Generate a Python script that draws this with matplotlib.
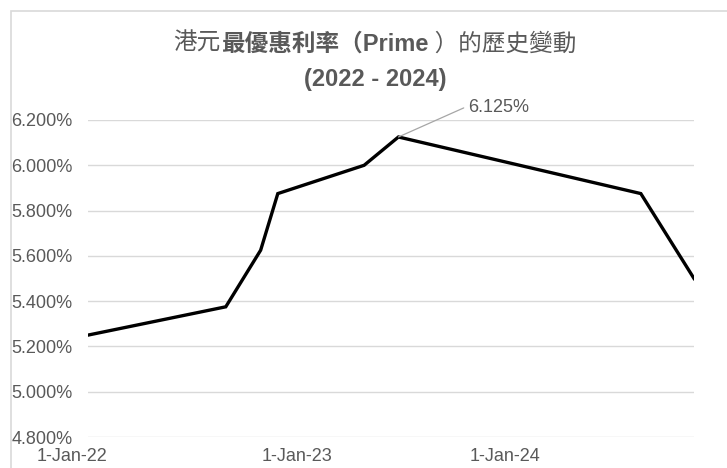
import matplotlib
matplotlib.use("Agg")
import matplotlib.pyplot as plt
import matplotlib.dates as mdates
import matplotlib.transforms as mtransforms
from matplotlib.ticker import FuncFormatter
from matplotlib.patches import Rectangle
import datetime as dt

# ---- data ----
dates = ["2022-01-01", "2022-08-30", "2022-10-30", "2022-11-29",
         "2023-04-29", "2023-06-28", "2024-08-25", "2024-11-26"]
prime_rate = [5.25, 5.375, 5.625, 5.875, 6.0, 6.125, 5.875, 5.5]
x_ticks = ["2022-01-01", "2023-01-01", "2024-01-01"]
y_ticks = [4.8, 5.0, 5.2, 5.4, 5.6, 5.8, 6.0, 6.2]
peak_label = "6.125%"
title_parts = [("港元", "normal"), ("最優惠利率（Prime", "bold"), (" ）的歷史變動", "normal")]
subtitle = "(2022 - 2024)"

x = [dt.datetime.strptime(d, "%Y-%m-%d") for d in dates]
xt = [dt.datetime.strptime(d, "%Y-%m-%d") for d in x_ticks]

TXT = "#595959"
GRID = "#D9D9D9"
FAM = ["Liberation Sans", "Noto Sans CJK TC", "DejaVu Sans"]
plt.rcParams["font.family"] = FAM

W, H = 727, 468
fig = plt.figure(figsize=(W / 100, H / 100), dpi=100)

# chart frame (cropped on right/bottom)
fig.patches.append(Rectangle((11 / W, -0.1), 2, 1 - 11 / H + 0.1,
                             transform=fig.transFigure, fill=False,
                             edgecolor=GRID, lw=1.2))

ax = fig.add_axes([88 / W, 1 - 437 / H, (694 - 88) / W, (437 - 120) / H])
ax.plot(x, prime_rate, color="black", lw=2.4, solid_joinstyle="miter", zorder=3)
ax.set_ylim(y_ticks[0], y_ticks[-1])
ax.set_xlim(x[0], x[-1])
ax.set_yticks(y_ticks)
ax.yaxis.set_major_formatter(FuncFormatter(lambda v, p: f"{v:.3f}%"))
ax.set_xticks(xt)
ax.xaxis.set_major_formatter(mdates.DateFormatter("%-d-%b-%y"))
ax.grid(axis="y", color=GRID, lw=1)
ax.grid(axis="x", visible=False)
for s in ax.spines.values():
    s.set_visible(False)
ax.tick_params(axis="both", length=0, labelsize=13, labelcolor=TXT)
ax.tick_params(axis="y", pad=11)
ax.tick_params(axis="x", pad=8)

# first date label nudged left (as in the reference)
fig.canvas.draw()
first = ax.get_xticklabels()[0]
first.set_transform(first.get_transform() +
                    mtransforms.ScaledTranslation(-16 / 100, 0, fig.dpi_scale_trans))

# peak annotation
ipk = prime_rate.index(max(prime_rate))
ax.annotate(peak_label, xy=(x[ipk], prime_rate[ipk]), xytext=(50, 21),
            textcoords="offset points", color=TXT, fontsize=13,
            va="center", ha="left",
            arrowprops=dict(arrowstyle="-", color="#A6A6A6", lw=0.9,
                            shrinkA=1, shrinkB=0,
                            connectionstyle="angle,angleA=0,angleB=24,rad=0"),
            annotation_clip=False)

# title with mixed weights
renderer = fig.canvas.get_renderer()
texts = []
total = 0
for s, w in title_parts:
    t = fig.text(0, 1 - 44 / H, s, fontsize=17, fontweight=w, color=TXT,
                 va="center", ha="left", family=FAM)
    bb = t.get_window_extent(renderer)
    texts.append((t, bb.width))
    total += bb.width
cx = 375
xpos = cx - total / 2
for t, wdt in texts:
    t.set_x(xpos / W)
    xpos += wdt
fig.text(cx / W, 1 - 79 / H, subtitle, fontsize=17, fontweight="bold",
         color=TXT, ha="center", va="center", family=FAM)

fig.savefig("out.png", dpi=100, facecolor="white")
